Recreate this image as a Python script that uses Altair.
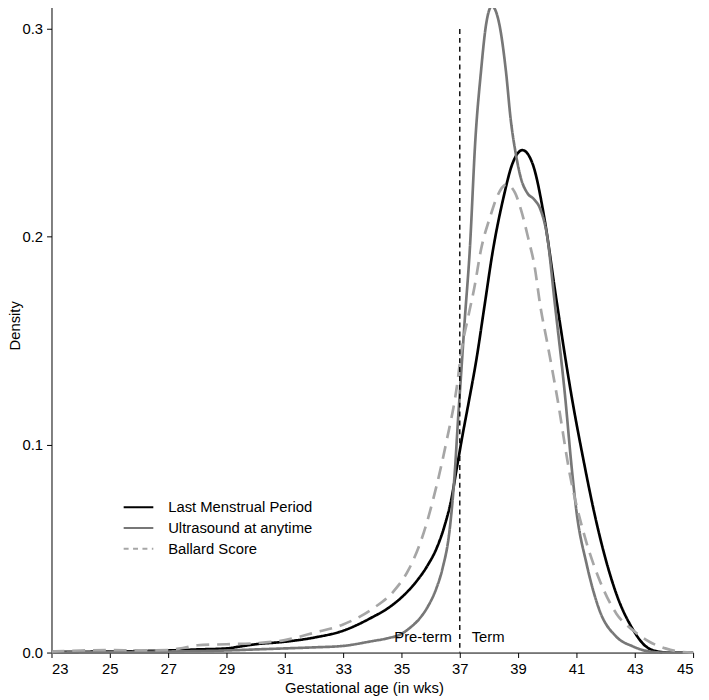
import altair as alt
import pandas as pd

series_names = ["Last Menstrual Period", "Ultrasound at anytime", "Ballard Score"]
series_colors = ["#000000", "#777777", "#a6a6a6"]

lmp_week = [23, 25, 27, 28, 29, 29.5, 30, 31, 32, 33, 34, 34.5, 35, 35.5, 35.9, 36.2, 36.5,
            36.7, 36.9, 37.1, 37.3, 37.57, 37.85, 38.13, 38.5, 38.8, 39.15, 39.5, 39.9, 40.3,
            40.85, 41.25, 41.6, 42.0, 42.4, 42.9, 43.3, 43.7, 44.2, 45]
lmp_density = [0.0003, 0.0005, 0.001, 0.0015, 0.002, 0.003, 0.004, 0.0052, 0.0072, 0.0105,
               0.017, 0.021, 0.0265, 0.034, 0.042, 0.050, 0.062, 0.073, 0.089, 0.105, 0.120,
               0.141, 0.167, 0.193, 0.219, 0.235, 0.2417, 0.235, 0.209, 0.171, 0.122, 0.092,
               0.068, 0.045, 0.027, 0.012, 0.004, 0.0008, 0.0, 0.0]

us_week = [23, 27, 29, 30, 31, 32, 33, 34, 34.5, 35, 35.3, 35.6, 35.9, 36.2, 36.4, 36.66,
           36.83, 36.94, 37.06, 37.17, 37.34, 37.54, 37.73, 37.9, 38.1, 38.36, 38.58, 38.75,
           38.92, 39.1, 39.32, 39.55, 39.75, 40.0, 40.25, 40.62, 40.83, 41.0, 41.35, 41.8,
           42.37, 42.93, 43.5, 44, 45]
us_density = [0.0, 0.0005, 0.001, 0.0015, 0.002, 0.0025, 0.0032, 0.0055, 0.0068, 0.009,
              0.012, 0.016, 0.022, 0.031, 0.040, 0.060, 0.087, 0.112, 0.137, 0.160, 0.193,
              0.248, 0.280, 0.302, 0.311, 0.302, 0.280, 0.256, 0.240, 0.228, 0.221, 0.218,
              0.2137, 0.200, 0.169, 0.122, 0.090, 0.068, 0.0425, 0.020, 0.0076, 0.003,
              0.0005, 0.0, 0.0]

bs_week = [23, 24, 25, 26, 27, 27.5, 28, 29, 30, 31, 32, 33, 34, 34.7, 35.25, 35.7, 36.2,
           36.55, 36.9, 37.06, 37.28, 37.5, 37.73, 38.05, 38.3, 38.6, 38.9, 39.1, 39.37,
           39.55, 39.77, 40.0, 40.35, 40.78, 41.24, 41.8, 42.37, 42.93, 43.5, 44.05, 44.5, 45]
bs_density = [0.0005, 0.001, 0.0012, 0.001, 0.0012, 0.0022, 0.0035, 0.004, 0.0045, 0.006,
              0.0095, 0.0135, 0.021, 0.029, 0.040, 0.055, 0.080, 0.102, 0.128, 0.1455, 0.161,
              0.1756, 0.194, 0.210, 0.220, 0.2252, 0.221, 0.213, 0.198, 0.187, 0.166, 0.149,
              0.122, 0.0853, 0.058, 0.0346, 0.0187, 0.0108, 0.0052, 0.002, 0.0005, 0.0]

x_ticks = list(range(23, 46, 2))
y_ticks = [0.0, 0.1, 0.2, 0.3]
cutoff_week = [37]
cutoff_top = [0.3]
region_labels = ["Pre-term", "Term"]

FONT = "Liberation Sans"

frames = []
for name, wk, dens in [(series_names[0], lmp_week, lmp_density),
                       (series_names[1], us_week, us_density),
                       (series_names[2], bs_week, bs_density)]:
    frames.append(pd.DataFrame({"series": name, "week": wk, "density": dens}))
df = pd.concat(frames, ignore_index=True)

color_scale = alt.Scale(domain=series_names, range=series_colors)
dash_scale = alt.Scale(domain=series_names, range=[[1, 0], [1, 0], [13, 8]])
width_scale = alt.Scale(domain=series_names, range=[2.7, 2.7, 4.2])

x_scale = alt.Scale(domain=[23, 45], nice=False, zero=False)
y_scale = alt.Scale(domain=[0, 0.312], nice=False)

lines = alt.Chart(df).mark_line(interpolate="monotone").encode(
    x=alt.X("week:Q", scale=x_scale,
            axis=alt.Axis(values=x_ticks, title="Gestational age (in wks)", titleX=316)),
    y=alt.Y("density:Q", scale=y_scale,
            axis=alt.Axis(values=y_ticks, format=".1f", title="Density",
                          titleX=-29, titleY=325)),
    color=alt.Color("series:N", scale=color_scale, legend=None),
    strokeDash=alt.StrokeDash("series:N", scale=dash_scale, legend=None),
    strokeWidth=alt.StrokeWidth("series:N", scale=width_scale, legend=None),
)

cut_df = pd.DataFrame({"week": cutoff_week, "top": cutoff_top, "bottom": [0.0]})
cut_rule = alt.Chart(cut_df).mark_rule(color="black", strokeDash=[5, 4], strokeWidth=1.4).encode(
    x=alt.X("week:Q", scale=x_scale),
    y=alt.Y("top:Q", scale=y_scale),
    y2="bottom:Q",
)

reg_df = pd.DataFrame({"week": cutoff_week * 2, "label": region_labels})
pre_text = alt.Chart(reg_df).transform_filter(
    alt.datum.label == region_labels[0]
).mark_text(align="right", baseline="middle", dx=-8, fontSize=15, font=FONT, color="black").encode(
    x=alt.X("week:Q", scale=x_scale), y=alt.value(640), text="label:N"
)
term_text = alt.Chart(reg_df).transform_filter(
    alt.datum.label == region_labels[1]
).mark_text(align="left", baseline="middle", dx=12, fontSize=15, font=FONT, color="black").encode(
    x=alt.X("week:Q", scale=x_scale), y=alt.value(640), text="label:N"
)

main = alt.layer(lines, cut_rule, pre_text, term_text)

leg_df = pd.DataFrame({"series": series_names})
leg_y = alt.Y("series:N", scale=alt.Scale(type="point", domain=series_names, range=[509, 551], padding=0), axis=None)
leg_rules = alt.Chart(leg_df).mark_rule(strokeWidth=2).encode(
    x=alt.value(73), x2=alt.value(103), y=leg_y,
    color=alt.Color("series:N", scale=color_scale, legend=None),
    strokeDash=alt.StrokeDash("series:N", scale=alt.Scale(domain=series_names, range=[[1, 0], [1, 0], [5, 4.5]]), legend=None),
)
leg_text = alt.Chart(leg_df).mark_text(align="left", baseline="middle", fontSize=15, font=FONT, color="black").encode(
    x=alt.value(118), y=leg_y, text="series:N"
)
legend = alt.layer(leg_rules, leg_text)

chart = alt.layer(main, legend).resolve_scale(
    y="independent", strokeDash="independent", strokeWidth="independent"
).properties(
    width=649, height=656,
    autosize=alt.AutoSizeParams(type="none"),
    padding={"left": 44, "top": -8, "right": 8, "bottom": 44},
).configure_view(stroke=None).configure_axis(
    grid=False, domainColor="black", tickColor="black", labelColor="black", titleColor="black",
    labelFont=FONT, titleFont=FONT, labelFontSize=15, titleFontSize=15, titleFontWeight="normal",
    tickSize=5, labelPadding=4, domainWidth=1, tickWidth=1,
)

chart.save("out.html", embed_options={"renderer": "svg", "actions": False})
